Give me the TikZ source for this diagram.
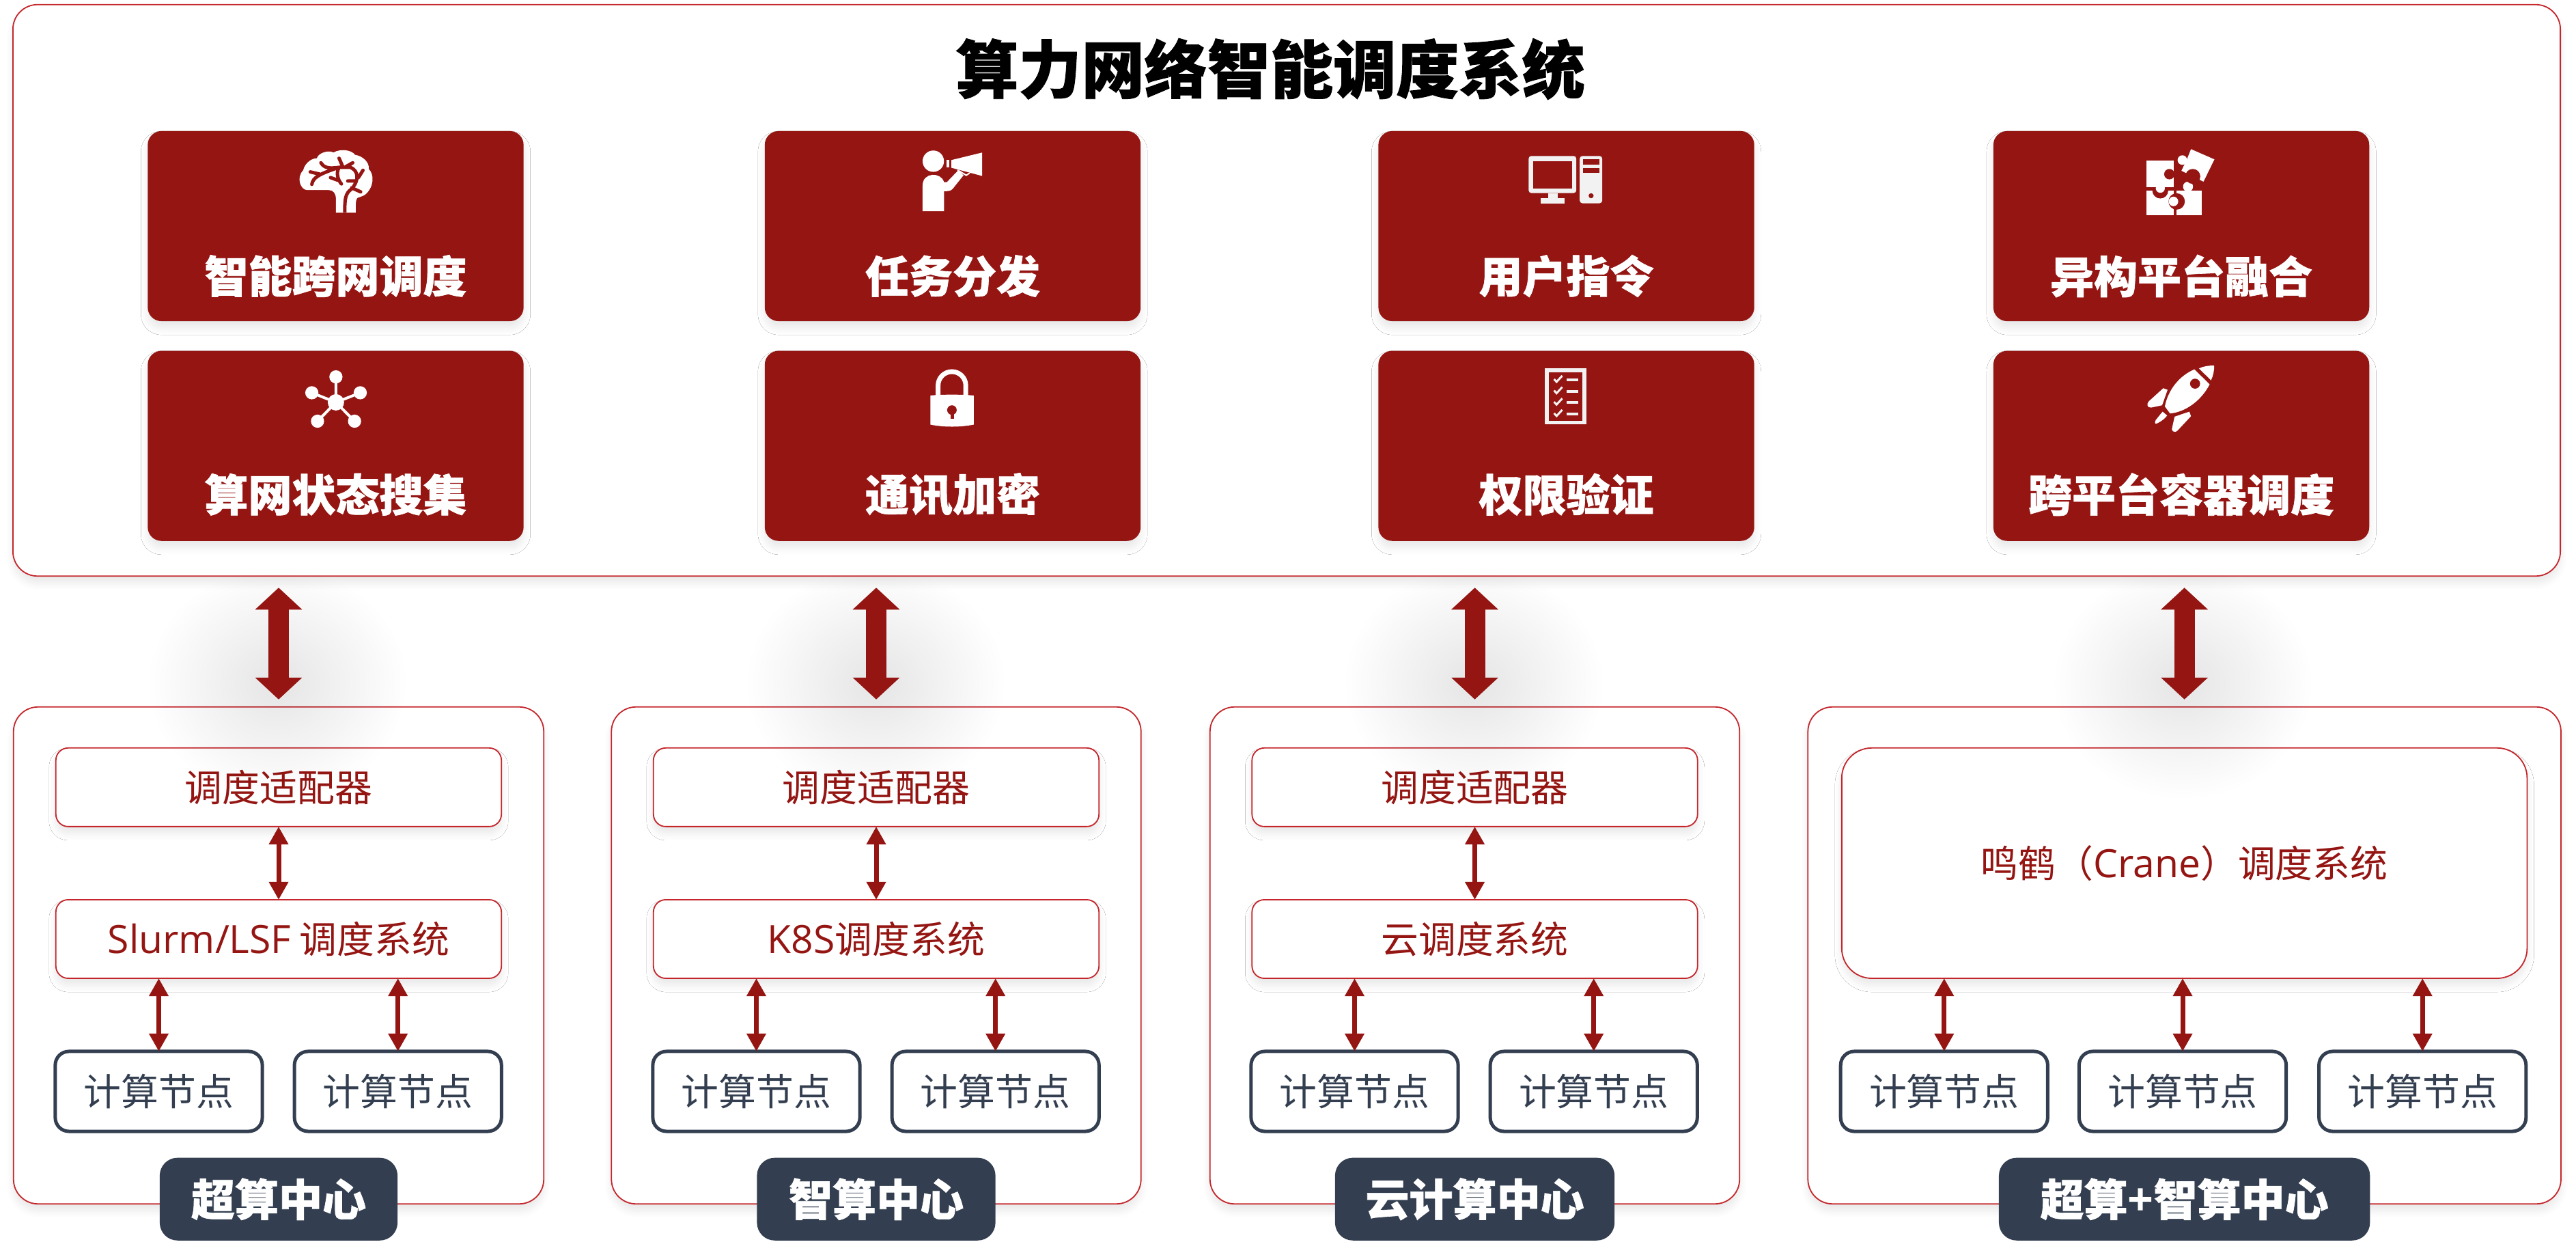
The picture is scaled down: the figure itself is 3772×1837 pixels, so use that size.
\documentclass[tikz,border=0pt]{standalone}
\usepackage{fontspec}
\setmainfont{Noto Sans CJK SC}
\newfontfamily\heavyfont[FakeBold=1]{Noto Sans CJK SC}
\newfontfamily\latinfont[Scale=1.04]{Open Sans}
\definecolor{darkred}{HTML}{941512}
\definecolor{linered}{HTML}{C4262B}
\definecolor{slate}{HTML}{333F50}
\definecolor{paper}{HTML}{F2F2F2}
\usetikzlibrary{arrows.meta,positioning,shadows.blur,fadings}
\tikzfading[name=glowout, inner color=transparent!0, outer color=transparent!100]
\tikzset{
	every node/.style={outer sep=0pt},
	softshadow/.style={blur shadow={shadow xshift=0cm, shadow yshift=-0.1cm, shadow blur radius=0.1cm, shadow blur steps=10, shadow opacity=9}},
	toppanel/.style={
		draw=linered, line width=0.018cm, fill=white, rounded corners=0.36cm,
		minimum width=37.28cm, minimum height=8.36cm, inner sep=0pt, softshadow
	},
	centerpanel/.style={
		draw=linered, line width=0.018cm, fill=white, rounded corners=0.36cm,
		minimum height=7.27cm, inner sep=0pt, softshadow
	},
	cardbox/.style={
		fill=darkred, rounded corners=0.2cm,
		minimum width=5.5cm, minimum height=2.78cm, inner sep=0pt, softshadow
	},
	cardtext/.style={text=white, inner sep=0pt, font=\fontsize{18.2}{22}\heavyfont\bfseries},
	titletext/.style={text=black, inner sep=0pt, font=\fontsize{26.2}{30}\heavyfont\bfseries},
	schedbox/.style={
		draw=linered, line width=0.018cm, fill=white, rounded corners=0.18cm, text=darkred,
		minimum width=6.52cm, minimum height=1.15cm, inner sep=0pt, softshadow,
		font=\fontsize{15.6}{19}\selectfont
	},
	cranebox/.style={schedbox, rounded corners=0.44cm, minimum width=10.03cm, minimum height=3.37cm},
	computebox/.style={
		draw=slate, line width=0.05cm, fill=white, rounded corners=0.2cm, text=slate,
		minimum width=3.03cm, minimum height=1.17cm, inner sep=0pt,
		font=\fontsize{15.6}{19}\selectfont
	},
	tagbox/.style={
		fill=slate, rounded corners=0.26cm, text=white,
		minimum height=1.21cm, inner sep=0pt, font=\fontsize{18.2}{22}\heavyfont\bfseries
	},
	bigarrow/.style={
		{Triangle[length=0.32cm,width=0.67cm]}-{Triangle[length=0.32cm,width=0.67cm]},
		draw=darkred, line width=0.3cm, shorten <=0.17cm, shorten >=0.11cm
	},
	smallarrow/.style={
		{Triangle[length=0.26cm,width=0.27cm]}-{Triangle[length=0.26cm,width=0.27cm]},
		draw=darkred, line width=0.07cm
	},
	arrowglow/.style={fill=black, opacity=0.1, path fading=glowout},
	icongrid/.style={x=0.0033333cm, y=-0.0033333cm},
	iconbrain/.pic={
		\begin{scope}[icongrid]
			\fill[white] (216,305) -- (216,245) .. controls (216,220) and (205,205) .. (185,205)
				-- (90,205) .. controls (60,205) and (40,150) .. (72,118)
				.. controls (80,85) and (110,65) .. (132,65) .. controls (140,40) and (185,28) .. (205,40)
				.. controls (235,22) and (285,28) .. (300,50) .. controls (335,55) and (365,85) .. (360,112)
				.. controls (385,135) and (385,190) .. (345,225) .. controls (335,232) and (320,235) .. (310,240)
				.. controls (303,250) and (303,260) .. (303,305) -- cycle;
			\draw[darkred, line width=0.05cm, line cap=round]
				(150,85) .. controls (165,110) and (190,110) .. (230,105) -- (280,105)
				(290,85) -- (258,103) (230,65) -- (245,100)
				(103,125) -- (145,135)
				(110,180) .. controls (115,150) and (140,135) .. (230,105)
				(230,105) .. controls (215,130) and (225,160) .. (240,178)
				(192,150) -- (225,162)
				(280,105) .. controls (315,120) and (320,160) .. (285,200)
				(335,118) -- (315,150) (268,165) -- (305,165) (285,195) -- (325,213);
			\draw[darkred, line width=0.05cm] (285,200) .. controls (255,220) and (255,250) .. (255,305);
		\end{scope}
	},
	iconspeaker/.pic={
		\begin{scope}[icongrid]
			\fill[white] (125,93) circle (47);
			\fill[white] (78,313) -- (78,200) .. controls (78,140) and (160,140) .. (172,185)
				-- (185,185) -- (235,133) -- (258,155) -- (210,215) .. controls (200,225) and (190,225) .. (172,225)
				-- (172,313) -- cycle;
			\fill[white] (205,88) -- (340,55) -- (340,158) -- (205,122) -- cycle;
			\fill[white] (184,88) rectangle (196,120);
			\draw[white, line width=0.02cm] (232,132) -- (270,155) -- (285,145);
		\end{scope}
	},
	iconscreen/.pic={
		\begin{scope}[icongrid]
			\fill[paper, rounded corners=0.04cm] (40,55) rectangle (250,218);
			\fill[darkred] (60,77) rectangle (230,197);
			\fill[paper] (125,218) rectangle (167,240);
			\fill[paper] (92,240) rectangle (198,263);
			\fill[paper, rounded corners=0.04cm] (265,55) rectangle (364,263);
			\fill[darkred] (280,70) rectangle (350,92);
			\fill[darkred] (280,107) rectangle (350,130);
			\fill[darkred] (315,230) circle (11);
		\end{scope}
	},
	iconpuzzle/.pic={
		\begin{scope}[icongrid]
			\fill[white] (55,222) rectangle (173,332);
			\fill[white] (187,222) rectangle (297,332);
			\fill[white] (237,205) circle (22);
			\fill[darkred] (115,222) circle (35);
			\fill[darkred] (187,270) circle (36);
			\fill[white] (55,90) rectangle (173,208);
			\fill[white] (115,212) circle (20);
			\fill[white] (173,270) circle (21);
			\fill[darkred] (155,150) circle (23);
			\fill[darkred] (173,127) rectangle (180,173);
			\fill[white] (250,40) -- (353,85) -- (305,183) -- (208,135) -- (232,85) -- cycle;
			\fill[white] (212,88) circle (21);
			\fill[darkred] (258,160) circle (33);
		\end{scope}
	},
	iconstar/.pic={
		\begin{scope}[icongrid]
			\draw[white, line width=0.04cm] (216,177) -- (216,65) (216,177) -- (110,135)
				(216,177) -- (323,135) (216,177) -- (135,260) (216,177) -- (298,260);
			\fill[white] (216,177) circle (36);
			\fill[white] (216,65) circle (29);
			\fill[white] (110,135) circle (29);
			\fill[white] (323,135) circle (29);
			\fill[white] (135,260) circle (29);
			\fill[white] (298,260) circle (29);
		\end{scope}
	},
	iconlock/.pic={
		\begin{scope}[icongrid]
			\draw[white, line width=0.07cm] (146,150) -- (146,103) arc[start angle=180, end angle=360, radius=61] -- (268,150);
			\fill[white] (112,147) .. controls (170,142) and (245,142) .. (303,147) -- (303,275)
				.. controls (245,287) and (170,287) .. (112,275) -- cycle;
			\fill[darkred] (207,211) circle (21);
			\fill[darkred] (200,220) rectangle (215,248);
		\end{scope}
	},
	iconlist/.pic={
		\begin{scope}[icongrid]
			\fill[paper] (112,27) rectangle (293,273);
			\fill[darkred] (130,45) rectangle (277,257);
			\draw[paper, line width=0.03cm] (152,75) -- (163,87) -- (188,60)
				(152,125) -- (163,137) -- (188,110) (152,175) -- (163,187) -- (188,160) (152,225) -- (163,237) -- (188,210);
			\fill[paper] (208,73) rectangle (258,85);
			\fill[paper] (208,122) rectangle (258,134);
			\fill[paper] (208,172) rectangle (258,184);
			\fill[paper] (208,221) rectangle (258,233);
		\end{scope}
	},
	iconrocket/.pic={
		\begin{scope}[icongrid]
			\fill[white] (265,32) .. controls (200,60) and (150,120) .. (135,195) -- (158,226)
				.. controls (225,220) and (295,170) .. (332,98) -- cycle;
			\fill[darkred] (268,95) circle (22);
			\fill[white] (285,28) .. controls (305,18) and (330,15) .. (352,15)
				.. controls (352,40) and (348,60) .. (338,80) -- cycle;
			\fill[white] (128,115) -- (147,122) -- (123,190) -- (75,200)
				.. controls (58,202) and (52,185) .. (65,172) -- cycle;
			\fill[white] (178,240) -- (243,218) -- (250,238) -- (190,302)
				.. controls (175,315) and (160,300) .. (168,285) -- cycle;
			\fill[white] (125,218) -- (145,235) .. controls (130,255) and (110,265) .. (100,270)
				.. controls (90,275) and (90,265) .. (95,255) -- cycle;
		\end{scope}
	}
}
\begin{document}
\begin{tikzpicture}[x=0.01cm,y=-0.01cm]
	\useasboundingbox (0,0) rectangle (3772,1837);
	\node[toppanel] (top) at (1884,425) {};
	\node[titletext] (title) at (1860,101) {算力网络智能调度系统};
	\node[cardbox] (cardA) at (491.5,331) {};
	\node[cardbox] (cardB) [right=3.53cm of cardA] {};
	\node[cardbox] (cardC) [right=3.48cm of cardB] {};
	\node[cardbox] (cardD) [right=3.5cm of cardC] {};
	\node[cardbox] (cardE) [below=0.435cm of cardA] {};
	\node[cardbox] (cardF) [below=0.435cm of cardB] {};
	\node[cardbox] (cardG) [below=0.435cm of cardC] {};
	\node[cardbox] (cardH) [below=0.435cm of cardD] {};
	\node[cardtext] (textA) at ([yshift=-0.73cm]cardA) {智能跨网调度};
	\node[cardtext] (textB) at ([yshift=-0.73cm]cardB) {任务分发};
	\node[cardtext] (textC) at ([yshift=-0.73cm]cardC) {用户指令};
	\node[cardtext] (textD) at ([yshift=-0.73cm]cardD) {异构平台融合};
	\node[cardtext] (textE) at ([yshift=-0.71cm]cardE) {算网状态搜集};
	\node[cardtext] (textF) at ([yshift=-0.71cm]cardF) {通讯加密};
	\node[cardtext] (textG) at ([yshift=-0.71cm]cardG) {权限验证};
	\node[cardtext] (textH) at ([yshift=-0.71cm]cardH) {跨平台容器调度};
	\pic at (420,210) {iconbrain};
	\pic at (1325,205) {iconspeaker};
	\pic at (2225,210) {iconscreen};
	\pic at (3125,205) {iconpuzzle};
	\pic at (420,530) {iconstar};
	\pic at (1325,530) {iconlock};
	\pic at (2225,530) {iconlist};
	\pic at (3125,530) {iconrocket};

	\node[centerpanel, minimum width=7.76cm] (panelsuper) at (408,1398.5) {};
	\node[centerpanel, minimum width=7.75cm] (panelai) [right=0.99cm of panelsuper] {};
	\node[centerpanel, minimum width=7.75cm] (panelcloud) [right=1.01cm of panelai] {};
	\node[centerpanel, minimum width=11.02cm] (panelcrane) [right=1cm of panelcloud] {};

	\node[schedbox] (adaptersuper) [below=0.6cm of panelsuper.north] {调度适配器};
	\node[schedbox] (syssuper) [below=1.07cm of adaptersuper] {{\latinfont Slurm/LSF} 调度系统};
	\node[computebox] (nodesuperA) at (232.5,1597.5) {计算节点};
	\node[computebox] (nodesuperB) [right=0.47cm of nodesuperA] {计算节点};
	\node[tagbox, minimum width=3.48cm] (tagsuper) at ([yshift=0.07cm]panelsuper.south) {超算中心};

	\node[schedbox] (adapterai) [below=0.6cm of panelai.north] {调度适配器};
	\node[schedbox] (sysai) [below=1.07cm of adapterai] {{\latinfont K8S}调度系统};
	\node[computebox] (nodeaiA) at (1107.5,1597.5) {计算节点};
	\node[computebox] (nodeaiB) [right=0.47cm of nodeaiA] {计算节点};
	\node[tagbox, minimum width=3.49cm] (tagai) at ([yshift=0.07cm]panelai.south) {智算中心};

	\node[schedbox] (adaptercloud) [below=0.6cm of panelcloud.north] {调度适配器};
	\node[schedbox] (syscloud) [below=1.07cm of adaptercloud] {云调度系统};
	\node[computebox] (nodecloudA) at (1983.5,1597.5) {计算节点};
	\node[computebox] (nodecloudB) [right=0.47cm of nodecloudA] {计算节点};
	\node[tagbox, minimum width=4.09cm] (tagcloud) at ([yshift=0.07cm]panelcloud.south) {云计算中心};

	\node[cranebox] (syscrane) [below=0.6cm of panelcrane.north] {鸣鹤（{\latinfont Crane}）调度系统};
	\node[computebox] (nodecraneB) at (3196,1597.5) {计算节点};
	\node[computebox] (nodecraneA) [left=0.46cm of nodecraneB] {计算节点};
	\node[computebox] (nodecraneC) [right=0.48cm of nodecraneB] {计算节点};
	\node[tagbox, minimum width=5.43cm] (tagcrane) at ([yshift=0.07cm]panelcrane.south) {超算{\latinfont\bfseries +}智算中心};

	\path[arrowglow] (406,1000) ellipse (190 and 170);
	\path[arrowglow] (1282,1000) ellipse (190 and 170);
	\path[arrowglow] (2158,1000) ellipse (190 and 170);
	\path[arrowglow] (3196,1000) ellipse (190 and 170);
	\draw[bigarrow] (panelsuper.north |- top.south) -- (panelsuper.north);
	\draw[bigarrow] (panelai.north |- top.south) -- (panelai.north);
	\draw[bigarrow] (panelcloud.north |- top.south) -- (panelcloud.north);
	\draw[bigarrow] (panelcrane.north |- top.south) -- (panelcrane.north);

	\draw[smallarrow] (adaptersuper) -- (syssuper);
	\draw[smallarrow] (nodesuperA.north |- syssuper.south) -- (nodesuperA);
	\draw[smallarrow] (nodesuperB.north |- syssuper.south) -- (nodesuperB);
	\draw[smallarrow] (adapterai) -- (sysai);
	\draw[smallarrow] (nodeaiA.north |- sysai.south) -- (nodeaiA);
	\draw[smallarrow] (nodeaiB.north |- sysai.south) -- (nodeaiB);
	\draw[smallarrow] (adaptercloud) -- (syscloud);
	\draw[smallarrow] (nodecloudA.north |- syscloud.south) -- (nodecloudA);
	\draw[smallarrow] (nodecloudB.north |- syscloud.south) -- (nodecloudB);
	\draw[smallarrow] (nodecraneA.north |- syscrane.south) -- (nodecraneA);
	\draw[smallarrow] (nodecraneB.north |- syscrane.south) -- (nodecraneB);
	\draw[smallarrow] (nodecraneC.north |- syscrane.south) -- (nodecraneC);
\end{tikzpicture}
\end{document}
